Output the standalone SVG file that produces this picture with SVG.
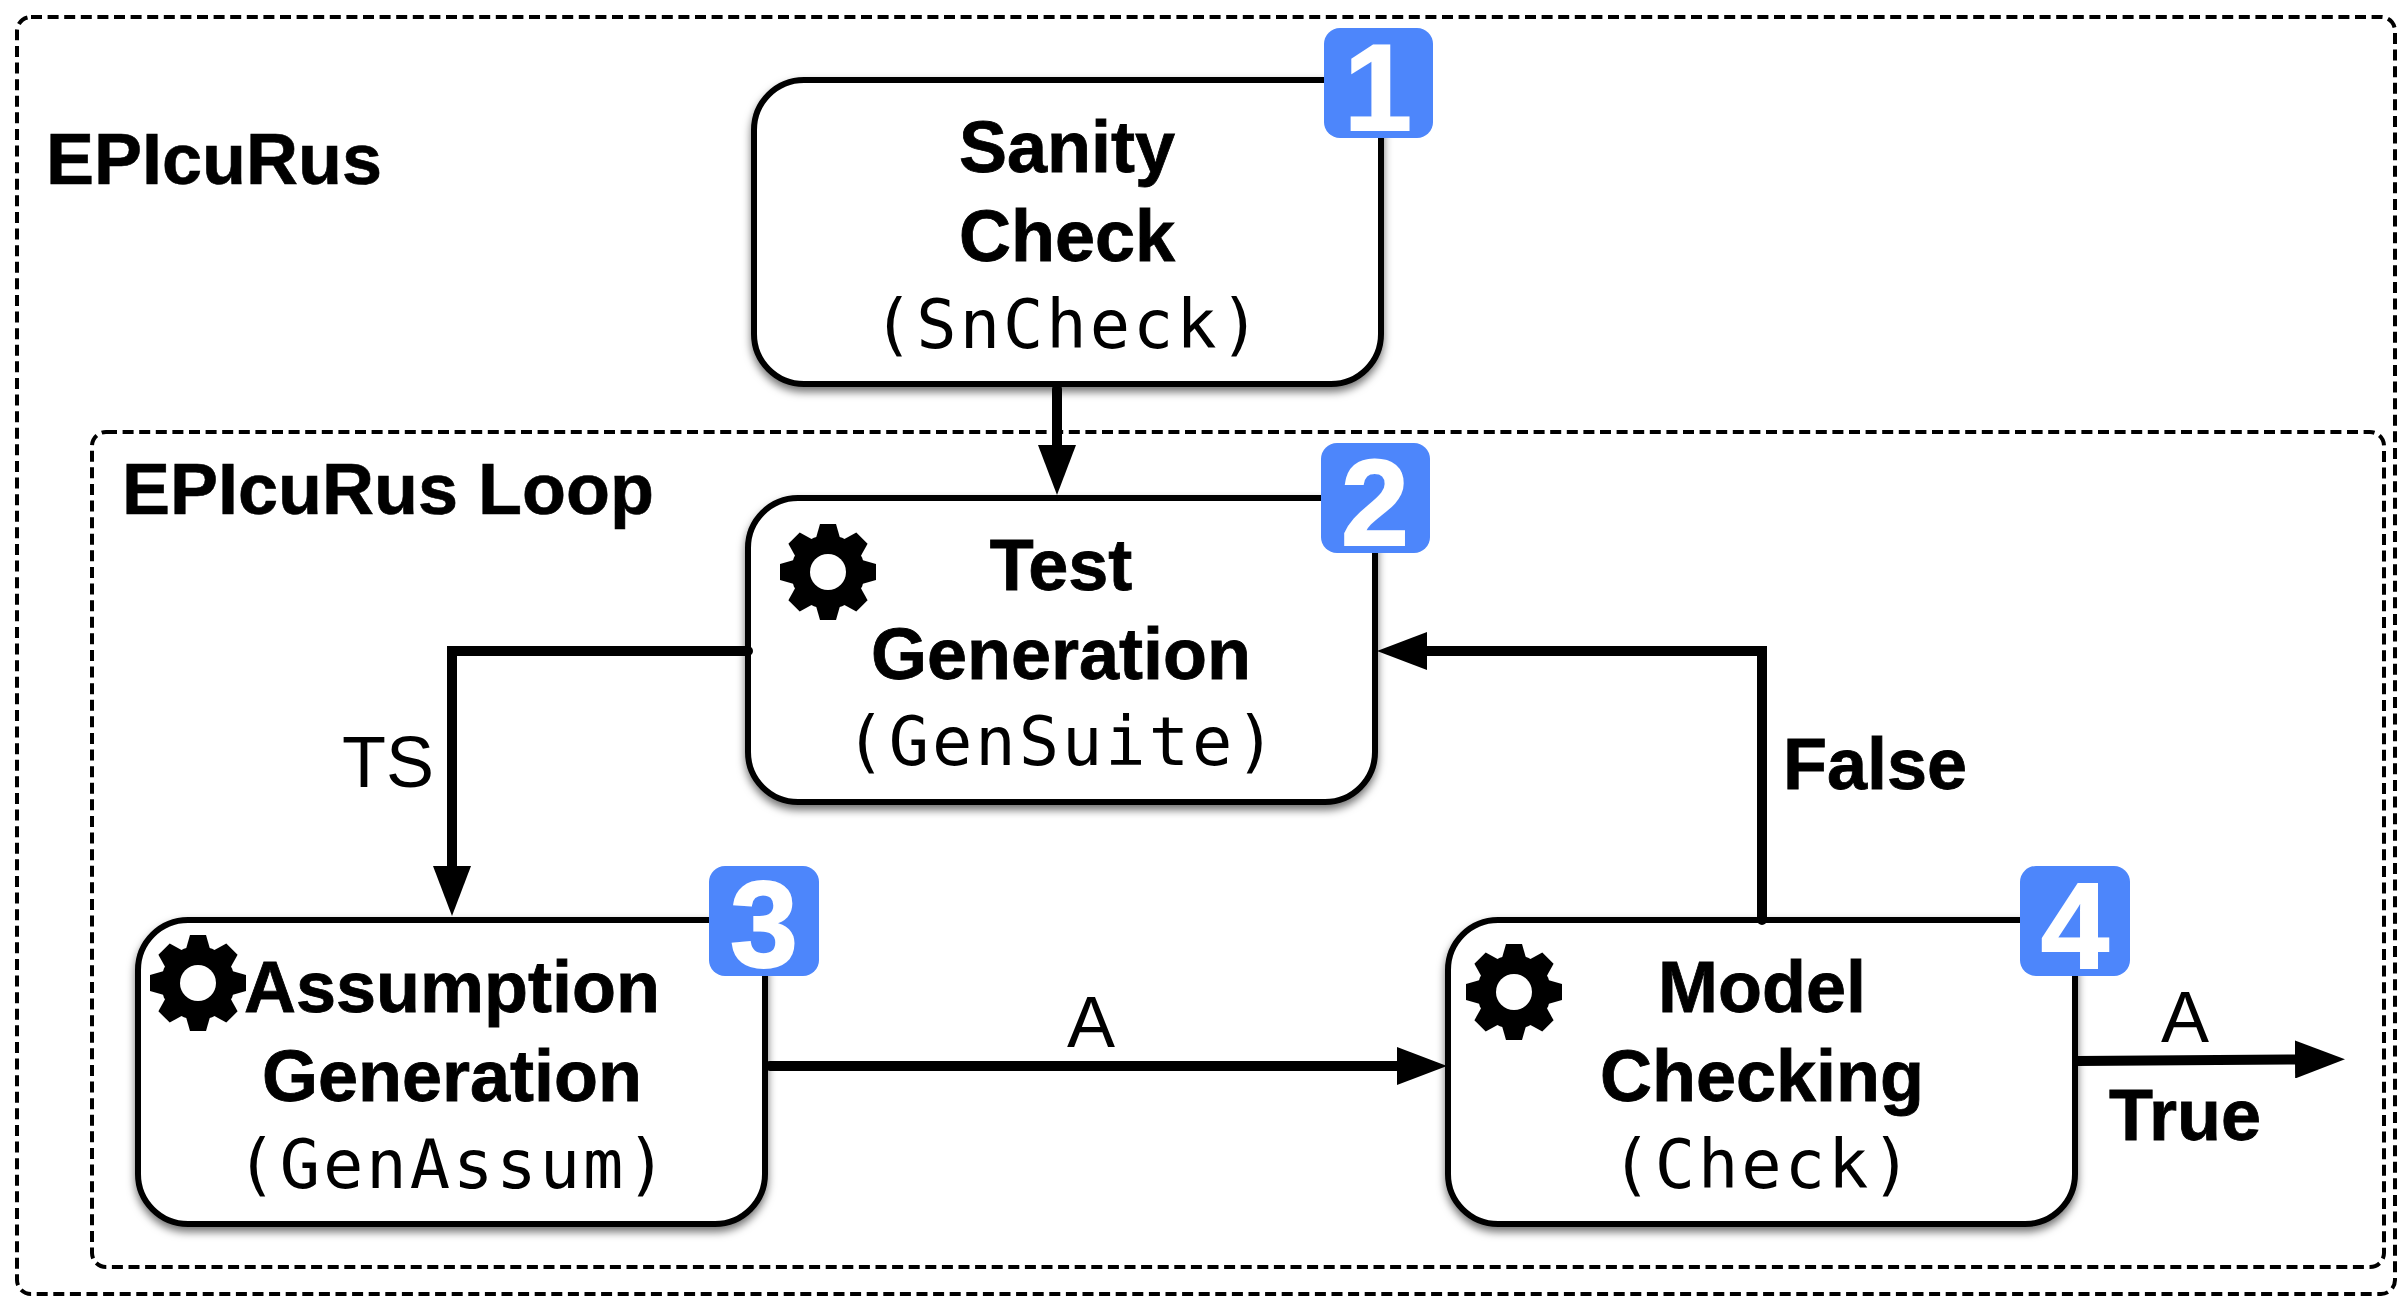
<svg xmlns="http://www.w3.org/2000/svg" xmlns:xlink="http://www.w3.org/1999/xlink" width="2404" height="1304" viewBox="0 0 2404 1304">
<style>
.frame{fill:none;stroke:#000;stroke-width:4;stroke-dasharray:11 5.6}
.box{fill:#fff;stroke:#000;stroke-width:6;filter:url(#sh)}
.badge{fill:#4d86fb}
.b{font-family:"Liberation Sans",Arial,sans-serif;font-weight:700;font-size:72px;text-anchor:middle;fill:#000;stroke:#000;stroke-width:.8}
.t{font-family:"Liberation Sans",Arial,sans-serif;font-weight:700;font-size:72px;fill:#000;stroke:#000;stroke-width:.6}
.m{font-family:"DejaVu Sans Mono",monospace;font-size:67px;letter-spacing:3px;text-anchor:middle;fill:#000}
.r{font-family:"Liberation Sans",Arial,sans-serif;font-size:72px;text-anchor:middle;fill:#000}
.d{font-family:"Liberation Sans",Arial,sans-serif;font-weight:700;font-size:122px;text-anchor:middle;fill:#fff;stroke:#fff;stroke-width:2}
.c{fill:none;stroke:#000;stroke-width:10;stroke-linecap:round;stroke-linejoin:miter;marker-end:url(#ah)}
</style>
<defs>
<filter id="sh" x="-5%" y="-5%" width="110%" height="115%"><feDropShadow dx="0" dy="5" stdDeviation="4" flood-color="#000" flood-opacity="0.55"/></filter>
<marker id="ah" viewBox="0 0 50 38" refX="2" refY="19" markerWidth="50" markerHeight="38" markerUnits="userSpaceOnUse" orient="auto"><path d="M0 0L50 19L0 38z" fill="#000"/></marker>
<polygon id="tooth" points="-12,-34 -8,-48 8,-48 12,-34" fill="#000"/>
<g id="gear">
<circle r="37" fill="#000"/>
<use xlink:href="#tooth"/>
<use xlink:href="#tooth" transform="rotate(45)"/>
<use xlink:href="#tooth" transform="rotate(90)"/>
<use xlink:href="#tooth" transform="rotate(135)"/>
<use xlink:href="#tooth" transform="rotate(180)"/>
<use xlink:href="#tooth" transform="rotate(225)"/>
<use xlink:href="#tooth" transform="rotate(270)"/>
<use xlink:href="#tooth" transform="rotate(315)"/>
<circle r="18" fill="#fff"/>
</g>
</defs>
<rect width="2404" height="1304" fill="#fff"/>
<g id="epicurus">
<rect class="frame" x="17" y="17" width="2378" height="1277" rx="14"/>
<text class="t" x="46" y="184">EPIcuRus</text>
</g>
<g id="epicurus-loop">
<rect class="frame" x="92" y="432" width="2292" height="835" rx="14"/>
<text class="t" x="122" y="514">EPIcuRus Loop</text>
</g>
<g id="node1">
<rect class="box" x="754" y="80" width="627" height="304" rx="50"/>
<text class="b" x="1067" y="172">Sanity</text>
<text class="b" x="1067" y="261">Check</text>
<text class="m" x="1068" y="348">(SnCheck)</text>
<rect class="badge" x="1324" y="28" width="109" height="110" rx="16"/>
<text class="d" x="1378" y="130">1</text>
</g>
<g id="node2">
<rect class="box" x="748" y="498" width="627" height="304" rx="50"/>
<use xlink:href="#gear" x="828" y="572"/>
<text class="b" x="1061" y="590">Test</text>
<text class="b" x="1061" y="679">Generation</text>
<text class="m" x="1062" y="765">(GenSuite)</text>
<rect class="badge" x="1321" y="443" width="109" height="110" rx="16"/>
<text class="d" x="1375" y="545">2</text>
</g>
<g id="node3">
<rect class="box" x="138" y="920" width="627" height="304" rx="50"/>
<use xlink:href="#gear" x="198" y="983"/>
<text class="b" x="452" y="1012">Assumption</text>
<text class="b" x="452" y="1101">Generation</text>
<text class="m" x="453" y="1188">(GenAssum)</text>
<rect class="badge" x="709" y="866" width="110" height="110" rx="16"/>
<text class="d" x="764" y="967">3</text>
</g>
<g id="node4">
<rect class="box" x="1448" y="920" width="627" height="304" rx="50"/>
<use xlink:href="#gear" x="1514" y="992"/>
<text class="b" x="1762" y="1012">Model</text>
<text class="b" x="1762" y="1101">Checking</text>
<text class="m" x="1763" y="1188">(Check)</text>
<rect class="badge" x="2020" y="866" width="110" height="110" rx="16"/>
<text class="d" x="2075" y="968">4</text>
</g>
<g id="connectors">
<path class="c" d="M1057 389V447"/>
<path class="c" d="M748 651H452V868"/>
<path class="c" d="M770 1066H1399"/>
<path class="c" d="M1762 920V651H1425"/>
<path class="c" d="M2077 1061L2297 1059.5"/>
</g>
<g id="labels">
<text class="r" x="388" y="787">TS</text>
<text class="r" x="1091" y="1047">A</text>
<text class="b" x="1875" y="789">False</text>
<text class="r" x="2185" y="1042">A</text>
<text class="b" x="2185" y="1140">True</text>
</g>
</svg>
